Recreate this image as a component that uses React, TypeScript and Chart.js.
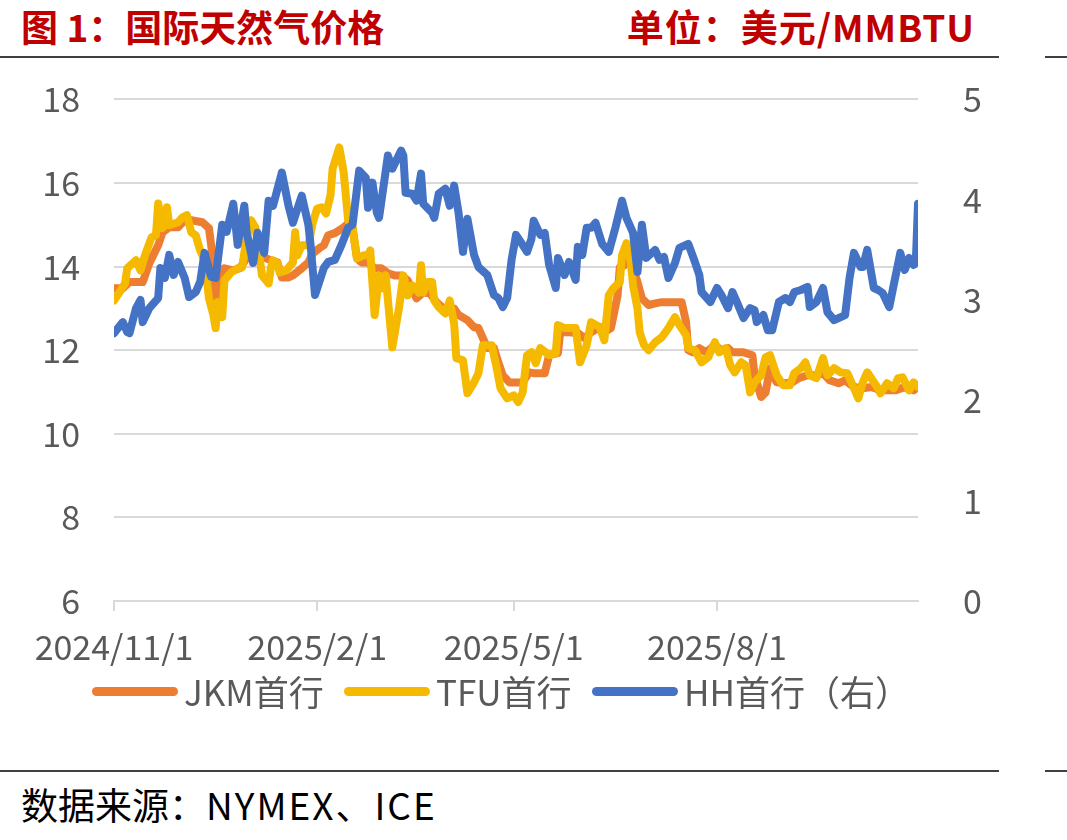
import React, { useEffect, useRef } from "react";
import { Chart, registerables } from "chart.js";

Chart.register(...registerables);

// Day offsets are counted from this date
const BASE_DATE = "2024/11/1";
const tickDates = ["2024/11/1", "2025/2/1", "2025/5/1", "2025/8/1"];
const END_DAY = 364;

const leftTicks = { min: 6, max: 18, step: 2 };
const rightTicks = { min: 0, max: 5, step: 1 };

// JKM front month (USD/MMBTU)
const jkmDays = [0, 4, 7, 13, 16, 20, 22, 25, 29, 31, 35, 40, 43, 45, 46, 50, 54, 57, 60, 63, 68, 71, 74, 76, 79, 81, 85, 88, 90, 93, 95, 97, 100, 104, 106, 108, 110, 112, 115, 118, 121, 124, 127, 130, 133, 137, 140, 143, 146, 150, 154, 156, 160, 163, 165, 167, 169, 172, 174, 176, 179, 182, 185, 188, 190, 195, 197, 201, 202, 206, 210, 213, 216, 220, 222, 225, 228, 229, 231, 233, 235, 237, 239, 242, 245, 248, 253, 257, 259, 260, 262, 265, 268, 272, 275, 278, 280, 285, 289, 290, 293, 295, 297, 300, 304, 307, 310, 314, 318, 321, 324, 328, 331, 335, 339, 343, 347, 350, 354, 358, 362, 364];
const jkmValues = [13.48, 13.48, 13.63, 13.63, 14.08, 14.51, 14.82, 14.94, 14.94, 15.06, 15.11, 15.06, 14.92, 14.1, 13.2, 13.96, 13.91, 13.96, 14.2, 14.2, 14.22, 14.15, 14.1, 13.74, 13.74, 13.79, 13.96, 14.1, 14.32, 14.44, 14.51, 14.75, 14.8, 14.94, 15.03, 14.92, 14.2, 14.1, 14.1, 13.96, 13.96, 13.84, 13.79, 13.79, 13.67, 13.24, 13.38, 13.36, 13.15, 12.96, 13.0, 12.84, 12.72, 12.55, 12.53, 12.29, 12.05, 12.05, 11.71, 11.4, 11.23, 11.23, 11.23, 11.47, 11.45, 11.45, 11.88, 11.93, 12.43, 12.43, 12.41, 12.29, 12.43, 12.55, 12.43, 12.53, 13.31, 13.98, 14.03, 14.27, 13.96, 13.63, 13.24, 13.08, 13.12, 13.15, 13.15, 13.15, 12.67, 12.0, 11.95, 12.05, 11.95, 12.12, 12.0, 12.05, 11.95, 11.95, 11.88, 11.4, 10.88, 10.99, 11.57, 11.23, 11.21, 11.23, 11.33, 11.4, 11.4, 11.45, 11.28, 11.21, 11.28, 11.12, 11.09, 11.12, 11.04, 11.04, 11.04, 11.12, 11.04, 11.12];

// TTF front month (USD/MMBTU)
const tfuDays = [0, 3, 5, 6, 10, 12, 14, 17, 19, 20, 22, 24, 25, 29, 31, 33, 35, 37, 39, 41, 43, 45, 46, 47, 49, 50, 53, 56, 58, 60, 62, 64, 65, 67, 70, 71, 72, 74, 75, 78, 81, 82, 83, 85, 88, 90, 92, 94, 96, 98, 99, 102, 104, 106, 108, 110, 113, 115, 116, 118, 120, 122, 123, 126, 129, 131, 133, 135, 138, 139, 140, 142, 144, 145, 147, 150, 152, 154, 155, 158, 160, 163, 165, 167, 171, 173, 175, 178, 181, 183, 185, 187, 189, 191, 193, 197, 200, 201, 204, 209, 211, 214, 216, 220, 222, 224, 226, 229, 230, 232, 234, 235, 237, 238, 240, 242, 245, 248, 251, 254, 256, 259, 260, 263, 266, 269, 272, 274, 277, 279, 281, 284, 286, 288, 290, 293, 295, 297, 300, 303, 306, 308, 311, 313, 315, 318, 321, 323, 326, 329, 332, 335, 337, 339, 341, 345, 347, 350, 353, 355, 357, 360, 362, 364];
const tfuValues = [13.19, 13.43, 13.6, 13.96, 14.15, 13.91, 14.27, 14.7, 14.75, 15.51, 14.92, 15.42, 14.99, 15.06, 15.18, 15.23, 14.82, 14.75, 14.39, 14.15, 13.24, 12.84, 12.53, 13.15, 12.79, 13.67, 13.86, 13.96, 13.98, 14.68, 15.11, 14.94, 14.58, 13.79, 13.6, 13.96, 14.15, 14.08, 13.86, 13.91, 14.1, 14.82, 14.27, 14.51, 14.51, 15.06, 15.39, 15.42, 15.27, 15.7, 16.35, 16.85, 16.25, 15.11, 14.94, 14.2, 14.27, 14.27, 14.39, 12.84, 13.79, 13.48, 13.79, 12.07, 13.0, 13.79, 13.31, 13.55, 13.38, 14.03, 13.38, 13.63, 13.63, 13.19, 13.03, 12.88, 13.19, 12.64, 11.81, 11.76, 10.97, 11.23, 11.45, 12.12, 12.12, 11.64, 11.09, 10.85, 10.92, 10.76, 10.99, 11.88, 11.95, 11.69, 12.05, 11.88, 11.93, 12.6, 12.53, 12.53, 11.71, 12.12, 12.67, 12.55, 12.24, 13.31, 13.48, 13.63, 14.27, 14.56, 14.1, 13.55, 13.0, 12.43, 12.12, 12.0, 12.19, 12.31, 12.53, 12.79, 12.6, 12.36, 12.05, 12.0, 11.71, 11.83, 12.19, 11.95, 12.05, 11.64, 11.47, 11.71, 11.64, 10.99, 11.23, 11.4, 11.83, 11.88, 11.4, 11.16, 11.16, 11.45, 11.57, 11.71, 11.4, 11.33, 11.81, 11.4, 11.57, 11.47, 11.45, 11.09, 10.85, 11.23, 11.47, 11.16, 10.97, 11.21, 11.09, 11.33, 11.35, 11.04, 11.23, 11.12];

// Henry Hub front month, right axis (USD/MMBTU)
const hhDays = [0, 4, 6, 7, 10, 12, 13, 16, 20, 21, 23, 25, 27, 29, 32, 34, 37, 39, 41, 44, 46, 49, 51, 54, 56, 59, 60, 63, 65, 68, 70, 72, 76, 79, 81, 85, 88, 89, 91, 95, 97, 100, 103, 106, 108, 111, 114, 115, 117, 119, 120, 124, 126, 130, 131, 132, 135, 137, 139, 140, 144, 145, 147, 150, 152, 154, 156, 158, 160, 163, 165, 169, 172, 174, 176, 178, 180, 182, 185, 187, 189, 190, 193, 195, 197, 200, 201, 204, 206, 209, 210, 212, 214, 216, 218, 221, 224, 227, 230, 232, 235, 237, 239, 241, 245, 247, 249, 251, 254, 256, 260, 263, 265, 266, 270, 273, 275, 278, 280, 282, 285, 288, 290, 291, 294, 296, 298, 301, 304, 306, 308, 311, 314, 315, 318, 321, 323, 326, 329, 331, 333, 335, 338, 339, 341, 344, 346, 348, 351, 353, 356, 358, 360, 362, 363, 364];
const hhValues = [2.67, 2.78, 2.68, 2.67, 2.92, 3.0, 2.78, 2.92, 3.02, 3.32, 3.22, 3.45, 3.25, 3.38, 3.22, 3.03, 3.08, 3.18, 3.47, 3.23, 3.22, 3.75, 3.68, 3.96, 3.55, 3.94, 3.68, 3.37, 3.67, 3.47, 3.99, 3.94, 4.27, 3.94, 3.77, 4.04, 3.75, 3.55, 3.05, 3.32, 3.38, 3.4, 3.55, 3.72, 3.75, 4.29, 4.22, 3.92, 4.17, 3.87, 3.82, 4.44, 4.31, 4.49, 4.44, 4.07, 4.06, 3.99, 4.26, 3.96, 3.87, 3.82, 4.06, 4.11, 3.94, 4.14, 3.87, 3.48, 3.81, 3.45, 3.33, 3.25, 3.05, 3.02, 2.93, 3.02, 3.4, 3.65, 3.55, 3.48, 3.61, 3.79, 3.65, 3.67, 3.35, 3.12, 3.42, 3.25, 3.38, 3.2, 3.53, 3.45, 3.72, 3.72, 3.77, 3.56, 3.48, 3.72, 3.99, 3.82, 3.67, 3.28, 3.75, 3.42, 3.5, 3.4, 3.43, 3.22, 3.37, 3.52, 3.56, 3.38, 3.25, 3.08, 2.98, 3.12, 3.05, 2.92, 3.08, 2.98, 2.82, 2.92, 2.9, 2.78, 2.85, 2.7, 2.7, 2.98, 3.02, 2.98, 3.08, 3.1, 3.13, 2.93, 2.98, 3.12, 2.88, 2.8, 2.83, 2.85, 3.22, 3.47, 3.33, 3.33, 3.5, 3.12, 3.1, 3.07, 2.93, 3.15, 3.47, 3.3, 3.42, 3.35, 3.37, 3.96];

const JKM_COLOR = "#ED7D31";
const TFU_COLOR = "#F5BA00";
const HH_COLOR = "#4472C4";

const TITLE_RED = "#C00000";
const AXIS_TEXT = "#595959";
const GRID = "#D9D9D9";
const FONT = "'Noto Sans CJK SC', 'Noto Sans', sans-serif";

const legendItems = [
  { label: "JKM首行", color: JKM_COLOR, left: 92 },
  { label: "TFU首行", color: TFU_COLOR, left: 344 },
  { label: "HH首行（右）", color: HH_COLOR, left: 592 },
];

function dayOffset(date: string): number {
  const [y, m, d] = date.split("/").map(Number);
  const [by, bm, bd] = BASE_DATE.split("/").map(Number);
  return Math.round((Date.UTC(y, m - 1, d) - Date.UTC(by, bm - 1, bd)) / 86400000);
}

const tickDays = tickDates.map(dayOffset);

function toPoints(days: number[], values: number[]) {
  return days.map((d, i) => ({ x: d, y: values[i] }));
}

function lineDataset(label: string, days: number[], values: number[], color: string, yAxisID: string, order: number) {
  return {
    label,
    data: toPoints(days, values),
    borderColor: color,
    backgroundColor: color,
    borderWidth: 8,
    borderJoinStyle: "round" as const,
    borderCapStyle: "round" as const,
    pointRadius: 0,
    tension: 0,
    yAxisID,
    order,
  };
}

export default function App() {
  const canvasRef = useRef<HTMLCanvasElement | null>(null);

  useEffect(() => {
    if (!canvasRef.current) return;
    const tickFont = { family: FONT, size: 34 };
    const chart = new Chart(canvasRef.current, {
      type: "line",
      data: {
        datasets: [
          lineDataset("JKM首行", jkmDays, jkmValues, JKM_COLOR, "y", 3),
          lineDataset("TFU首行", tfuDays, tfuValues, TFU_COLOR, "y", 2),
          lineDataset("HH首行（右）", hhDays, hhValues, HH_COLOR, "y1", 1),
        ],
      },
      options: {
        responsive: false,
        maintainAspectRatio: false,
        animation: false,
        layout: { padding: 0 },
        plugins: {
          legend: { display: false },
          tooltip: { enabled: false },
        },
        scales: {
          x: {
            type: "linear",
            min: 0,
            max: END_DAY,
            afterBuildTicks: (scale: any) => {
              scale.ticks = tickDays.map((v) => ({ value: v }));
            },
            afterFit: (scale: any) => {
              scale.height = 79;
            },
            ticks: {
              autoSkip: false,
              maxRotation: 0,
              padding: 16,
              color: AXIS_TEXT,
              font: tickFont,
              callback: (v: any) => {
                const i = tickDays.indexOf(Number(v));
                return i >= 0 ? tickDates[i] : "";
              },
            },
            grid: {
              drawOnChartArea: false,
              drawTicks: true,
              tickLength: 10,
              color: GRID,
              lineWidth: 2,
            },
            border: { display: true, color: GRID, width: 2 },
          },
          y: {
            position: "left",
            min: leftTicks.min,
            max: leftTicks.max,
            afterFit: (scale: any) => {
              scale.width = 114;
            },
            ticks: { stepSize: leftTicks.step, padding: 34, color: AXIS_TEXT, font: tickFont },
            grid: { color: GRID, lineWidth: 2, drawTicks: false },
            border: { display: false },
          },
          y1: {
            position: "right",
            min: rightTicks.min,
            max: rightTicks.max,
            afterFit: (scale: any) => {
              scale.width = 149;
            },
            ticks: { stepSize: rightTicks.step, padding: 37, color: AXIS_TEXT, font: tickFont },
            grid: { display: false, drawOnChartArea: false },
            border: { display: false },
          },
        },
      },
    });
    return () => chart.destroy();
  }, []);

  const rule = (top: number) => (
    <>
      <div style={{ position: "absolute", left: 0, top, width: 999, height: 2, background: "#404040" }} />
      <div style={{ position: "absolute", left: 1045, top, width: 22, height: 2, background: "#404040" }} />
    </>
  );

  return (
    <div
      style={{
        position: "fixed",
        left: 0,
        top: 0,
        width: 1067,
        height: 840,
        background: "#ffffff",
        fontFamily: FONT,
        overflow: "hidden",
      }}
    >
      <div
        style={{
          position: "absolute",
          left: 21,
          top: 2,
          fontSize: 37,
          fontWeight: 700,
          color: TITLE_RED,
          lineHeight: "48px",
          whiteSpace: "nowrap",
        }}
      >
        图 1：国际天然气价格
      </div>
      <div
        style={{
          position: "absolute",
          right: 92,
          top: 2,
          fontSize: 37,
          fontWeight: 700,
          color: TITLE_RED,
          lineHeight: "48px",
          whiteSpace: "nowrap",
          letterSpacing: 1,
        }}
      >
        单位：美元/MMBTU
      </div>
      {rule(56)}
      <canvas
        ref={canvasRef}
        width={1067}
        height={638}
        style={{ position: "absolute", left: 0, top: 42, width: 1067, height: 638 }}
      />
      {legendItems.map((item) => (
        <div
          key={item.label}
          style={{
            position: "absolute",
            left: item.left,
            top: 668,
            height: 46,
            display: "flex",
            alignItems: "center",
            whiteSpace: "nowrap",
          }}
        >
          <div style={{ width: 86, height: 9, borderRadius: 5, background: item.color }} />
          <span style={{ marginLeft: 6, fontSize: 35, color: AXIS_TEXT, lineHeight: "46px" }}>{item.label}</span>
        </div>
      ))}
      {rule(770)}
      <div
        style={{
          position: "absolute",
          left: 21,
          top: 780,
          fontSize: 37,
          color: "#000000",
          lineHeight: "48px",
          whiteSpace: "nowrap",
        }}
      >
        数据来源：<span style={{ letterSpacing: 2 }}>NYMEX、ICE</span>
      </div>
    </div>
  );
}
